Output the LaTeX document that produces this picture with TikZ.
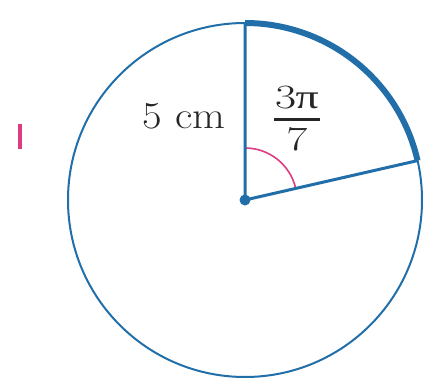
\documentclass[tikz,border=0pt]{standalone}
\usepackage{amsmath}
\usepackage{fontspec}
\newfontfamily\pifont{Liberation Serif}
\usetikzlibrary{calc}
\begin{document}
\begin{tikzpicture}[x=1pt,y=-1pt,
  blueline/.style={draw=bl, line width=2pt},
  radius line/.style={draw=bl, line width=3pt},
  label text/.style={font=\fontsize{38}{44}\selectfont, text=black!85, inner sep=0pt}]
\definecolor{bl}{RGB}{33,110,168}
\definecolor{pk}{RGB}{222,60,130}
\useasboundingbox (0,0) rectangle (424,380);
\coordinate (O) at (245,200);
\coordinate (T) at (245,23);
\coordinate (P) at ($(O)+(-12.86:177)$);
\draw[blueline] (O) circle[radius=177];
\draw[pk, line width=1.6pt] ($(O)+(0,-52)$) arc[start angle=-90, end angle=-12.86, radius=52];
\draw[radius line] (T) -- (O) -- (P);
\draw[draw=bl, line width=6pt] (T) arc[start angle=-90, end angle=-12.86, radius=177];
\fill[bl] (O) circle[radius=5.5];
\node[label text, xscale=1.12] (r) at (184,116) {5 cm};
\node[label text, font=\fontsize{34}{40}\selectfont, xscale=1.35] (a) at (297,119)
  {$\genfrac{}{}{2.4pt}{0}{\hbox{\kern1pt 3\kern-0.5pt{\pifont π}\kern1pt}}{\hbox{7}}$};
\draw[pk, line width=4pt] (20,124) -- (20,149);
\end{tikzpicture}
\end{document}
